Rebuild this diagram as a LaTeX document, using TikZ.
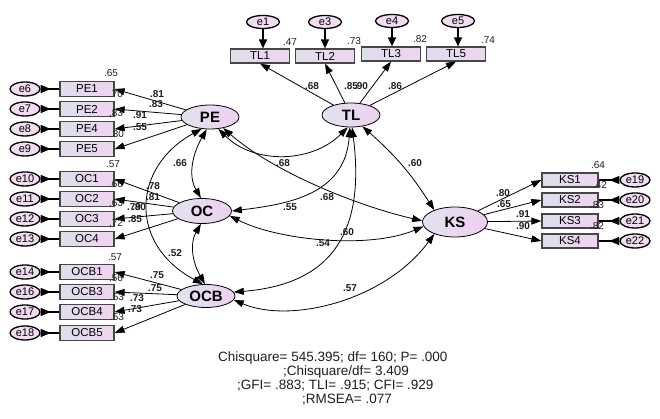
\documentclass[tikz,border=0pt]{standalone}
\usepackage{fontspec}
\setmainfont{Liberation Sans}
\usetikzlibrary{shapes.geometric,arrows.meta}
\definecolor{boxL}{RGB}{222,222,236}
\definecolor{boxR}{RGB}{240,212,240}
\definecolor{boxD}{RGB}{70,70,70}
\definecolor{latL}{RGB}{226,226,240}
\definecolor{latR}{RGB}{238,208,240}
\definecolor{errF}{RGB}{242,220,242}
\definecolor{txt}{RGB}{30,30,30}
\tikzset{
 ind/.style={rectangle, draw=boxD, line width=1.2pt, left color=boxL, right color=boxR,
   minimum width=54pt, minimum height=15pt, inner sep=0pt, font=\fontsize{11.5}{12}\selectfont},
 lat/.style={ellipse, draw=black, line width=0.8pt, left color=latL, right color=latR,
   minimum width=58pt, minimum height=24pt, inner sep=0pt, font=\bfseries\fontsize{15}{16}\selectfont},
 err/.style={ellipse, draw=black, line width=1.3pt, fill=errF,
   minimum width=30pt, minimum height=14pt, inner sep=0pt, font=\fontsize{11}{12}\selectfont},
 coef/.style={font=\bfseries\fontsize{10}{11}\selectfont, inner sep=0pt, text=txt},
 rsq/.style={font=\fontsize{10}{11}\selectfont, inner sep=0pt, text=txt},
 stat/.style={font=\fontsize{13.5}{14}\selectfont, inner sep=0pt, anchor=west, text=txt},
 load/.style={-{Triangle[length=10pt,width=7pt]}, line width=0.8pt},
 cov/.style={{Triangle[length=10pt,width=7pt]}-{Triangle[length=10pt,width=7pt]}, line width=0.8pt},
 errarr/.style={{Triangle[reversed,length=10pt,width=8pt]}-, line width=1.2pt},
 toperr/.style={-{Triangle[length=9pt,width=8pt]}, line width=1.2pt},
}
\begin{document}
\begin{tikzpicture}[x=1pt,y=1pt]
\useasboundingbox (0,0) rectangle (660,419);
\fill[white] (0,0) rectangle (660,419);

% latent variables
\node[lat] (PE) at (210,302) {PE};
\node[lat] (TL) at (351,304) {TL};
\node[lat, minimum width=59pt, minimum height=25pt] (OC) at (202,208) {OC};
\node[lat, minimum height=23pt] (OCB) at (206,123) {OCB};
\node[lat, minimum width=65pt, minimum height=30pt] (KS) at (455,197) {KS};

% left indicators with errors
\foreach \n/\y/\e in {PE1/330/e6, PE2/310/e7, PE4/290/e8, PE5/270/e9,
                      OC1/240/e10, OC2/220/e11, OC3/200/e12, OC4/180/e13,
                      OCB1/147/e14, OCB3/127/e16, OCB4/107/e17, OCB5/86/e18}{
  \node[ind] (\n) at (87,\y) {\n};
  \node[err] (\e) at (25,\y) {\e};
  \draw[errarr] (\e.east) -- (\n.west);
}

% TL indicators with errors
\foreach \n/\x/\y/\e/\ex/\ey in {TL1/260/363/e1/263/397, TL2/325/363/e3/325/397,
                                 TL3/391/365/e4/392/398, TL5/456/365/e5/458/398}{
  \node[ind, minimum width=59pt, minimum height=14pt] (\n) at (\x,\y) {\n};
  \node[err, minimum width=33pt, minimum height=13pt] (\e) at (\ex,\ey) {\e};
  \draw[toperr] (\e.south) -- (\e.south |- \n.north);
}

% KS indicators with errors
\foreach \n/\y/\e in {KS1/239/e19, KS2/219/e20, KS3/198/e21, KS4/178/e22}{
  \node[ind, minimum width=56pt, minimum height=14pt] (\n) at (570,\y) {\n};
  \node[err] (\e) at (635,\y) {\e};
  \draw[errarr] (\e.west) -- (\n.east);
}

% loadings
\foreach \n in {PE1,PE2,PE4,PE5} \draw[load] (PE) -- (\n.east);
\foreach \n in {OC1,OC2,OC3,OC4} \draw[load] (OC) -- (\n.east);
\foreach \n in {OCB1,OCB3,OCB4,OCB5} \draw[load] (OCB) -- (\n.east);
\foreach \n in {TL1,TL2,TL3,TL5} \draw[load] (TL) -- (\n.south);
\foreach \n in {KS1,KS2,KS3,KS4} \draw[load] (KS) -- (\n.west);

% covariances
\draw[cov] (PE.-55) to[out=-45,in=-135] (TL.-105);
\draw[cov] (PE.-105) to[out=-120,in=120] (OC.95);
\draw[cov] (PE.-125) .. controls (132,252) and (128,175) .. (OCB.105);
\draw[cov] (OC.-95) to[out=-120,in=120] (OCB.95);
\draw[cov] (TL.-95) .. controls (345,225) and (290,215) .. (OC.east);
\draw[cov] (PE.-40) .. controls (270,250) and (350,215) .. (KS.178);
\draw[cov] (OC.-10) .. controls (280,178) and (370,170) .. (KS.188);
\draw[cov] (TL.-85) .. controls (365,190) and (335,135) .. (OCB.8);
\draw[cov] (OCB.-8) .. controls (290,95) and (385,118) .. (KS.-150);
\draw[cov] (TL.-45) to[bend left=8] (KS.150);

% squared multiple correlations
\foreach \x/\y/\t [count=\i] in {111/346/.65, 116/325/.70, 116/306/.83, 117/285/.30,
   113/255/.57, 116/235/.66, 116/216/.63, 116/196/.72,
   115/162/.57, 116/141/.56, 117/122/.53, 117/102/.53,
   290/377/.47, 354/378/.73, 420/380/.82, 488/379/.74,
   598/254/.64, 600/234/.42, 597/214/.83, 597/193/.82}
  \node[rsq] (r\i) at (\x,\y) {\t};

% coefficients
\foreach \x/\y/\t [count=\i] in {157/325/.81, 156/315/.83, 140/304/.91, 140/292/.55,
   153/233/.78, 153/222/.81, 134/212/.79, 139/212/.80, 135/200/.85,
   157/144/.75, 155/131/.75, 137/121/.73, 135/110/.73,
   312/333/.68, 351/333/.85, 361/333/.90, 395/333/.86,
   503/226/.80, 504/215/.65, 523/205/.91, 523/193/.90,
   283/256/.68, 180/256/.66, 175/166/.52, 290/212/.55, 327/222/.68,
   347/187/.60, 323/176/.54, 350/131/.57, 415/256/.60}
  \node[coef] (c\i) at (\x,\y) {\t};

% fit statistics
\node[stat] (s1) at (218,61) {Chisquare= 545.395; df= 160; P= .000};
\node[stat] (s2) at (283,47) {;Chisquare/df= 3.409};
\node[stat] (s3) at (237,33) {;GFI= .883; TLI= .915; CFI= .929};
\node[stat] (s4) at (302,19) {;RMSEA= .077};
\end{tikzpicture}
\end{document}
